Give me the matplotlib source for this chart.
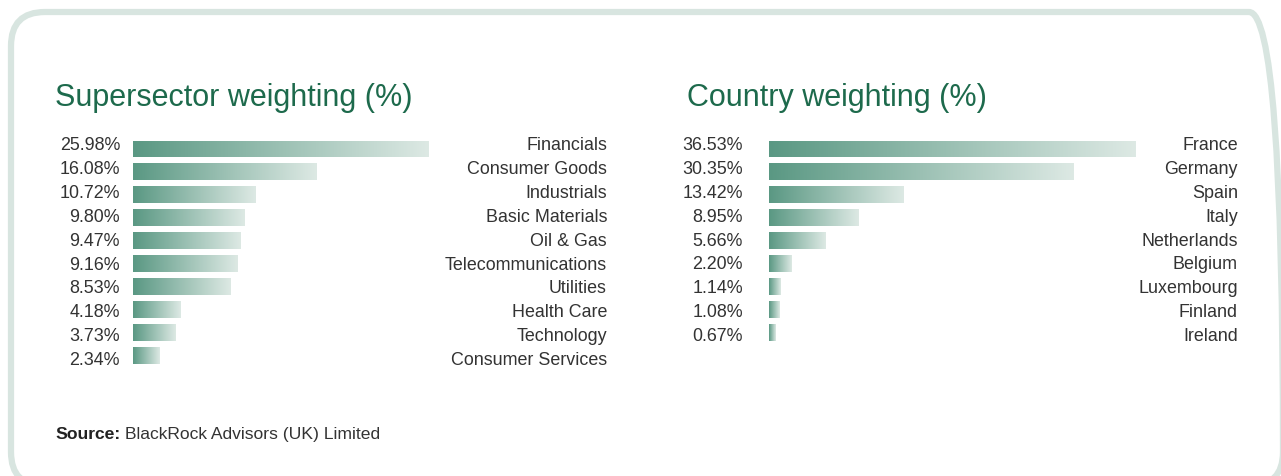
import numpy as np
import matplotlib
matplotlib.use("Agg")
import matplotlib.pyplot as plt
from matplotlib.colors import LinearSegmentedColormap
from matplotlib.patches import FancyBboxPatch
from matplotlib.transforms import Affine2D, blended_transform_factory

# Данные
sectors = ["Financials", "Consumer Goods", "Industrials", "Basic Materials", "Oil & Gas",
           "Telecommunications", "Utilities", "Health Care", "Technology", "Consumer Services"]
sector_weights = [25.98, 16.08, 10.72, 9.80, 9.47, 9.16, 8.53, 4.18, 3.73, 2.34]

countries = ["France", "Germany", "Spain", "Italy", "Netherlands", "Belgium",
             "Luxembourg", "Finland", "Ireland"]
country_weights = [36.53, 30.35, 13.42, 8.95, 5.66, 2.20, 1.14, 1.08, 0.67]

W, H = 1281, 477
plt.rcParams['font.family'] = ['Liberation Sans', 'DejaVu Sans']

fig = plt.figure(figsize=(W / 100, H / 100), dpi=100)

GREEN = "#1d6a4c"
TEXT = "#333333"
FRAME = "#d8e5e0"
grad = LinearSegmentedColormap.from_list("bar", ["#5a9883", "#dde9e4"])
gradient = np.linspace(0, 1, 256).reshape(1, -1)

# Рамка с закруглёнными углами (координаты в пикселях, y снизу)
px = Affine2D().scale(1 / 100) + fig.dpi_scale_trans
frame = FancyBboxPatch((11, H - 487), 1272, 474,
                       boxstyle="round,pad=0,rounding_size=34",
                       transform=px, fill=False,
                       edgecolor=FRAME, linewidth=4.5)
fig.patches.append(frame)

ROW = 22.9  # шаг строк в пикселях
TEXT_ROW = 23.8


def panel(title, names, values, title_x, bar_left, px_per_unit, pct_right, name_right):
    n = len(values)
    top = 150 - ROW / 2
    width_px = 380
    ax = fig.add_axes([bar_left / W, 1 - (top + n * ROW) / H, width_px / W, n * ROW / H])
    ax.axis("off")

    ys = np.arange(n)
    bars = ax.barh(ys, values, height=0.74, color="none", edgecolor="none")
    for bar, y, v in zip(bars, ys, values):
        im = ax.imshow(gradient, cmap=grad, aspect="auto",
                       extent=(0, v, y + 0.37, y - 0.37), interpolation="bilinear")
        im.set_clip_path(bar)
    ax.set_xlim(0, width_px / px_per_unit)
    ax.set_ylim(n - 0.5, -0.5)

    tr = blended_transform_factory(fig.transFigure, ax.transData)
    off = (146 - 150) / ROW
    step = TEXT_ROW / ROW
    for i, (name, v) in enumerate(zip(names, values)):
        ty = off + i * step
        ax.text(pct_right / W, ty, f"{v:.2f}%", transform=tr, ha="right", va="center",
                fontsize=12.9, color=TEXT, clip_on=False)
        ax.text(name_right / W, ty, name, transform=tr, ha="right", va="center",
                fontsize=12.9, color=TEXT, clip_on=False)

    fig.text(title_x / W, 1 - 106 / H, title, fontsize=22, color=GREEN,
             ha="left", va="baseline")


panel("Supersector weighting (%)", sectors, sector_weights,
      55, 133, 296 / 25.98, 120, 607)
panel("Country weighting (%)", countries, country_weights,
      687, 769, 367 / 36.53, 743, 1238)

src = fig.text(55 / W, 1 - 439 / H, "Source:", fontsize=12.6, color="#222222",
               fontweight="bold", ha="left", va="baseline")
plt.annotate("BlackRock Advisors (UK) Limited", xy=(1, 0), xycoords=src,
             xytext=(3.5, 0), textcoords="offset points",
             fontsize=12.6, color=TEXT, ha="left", va="bottom")

fig.savefig("out.png", dpi=100)
